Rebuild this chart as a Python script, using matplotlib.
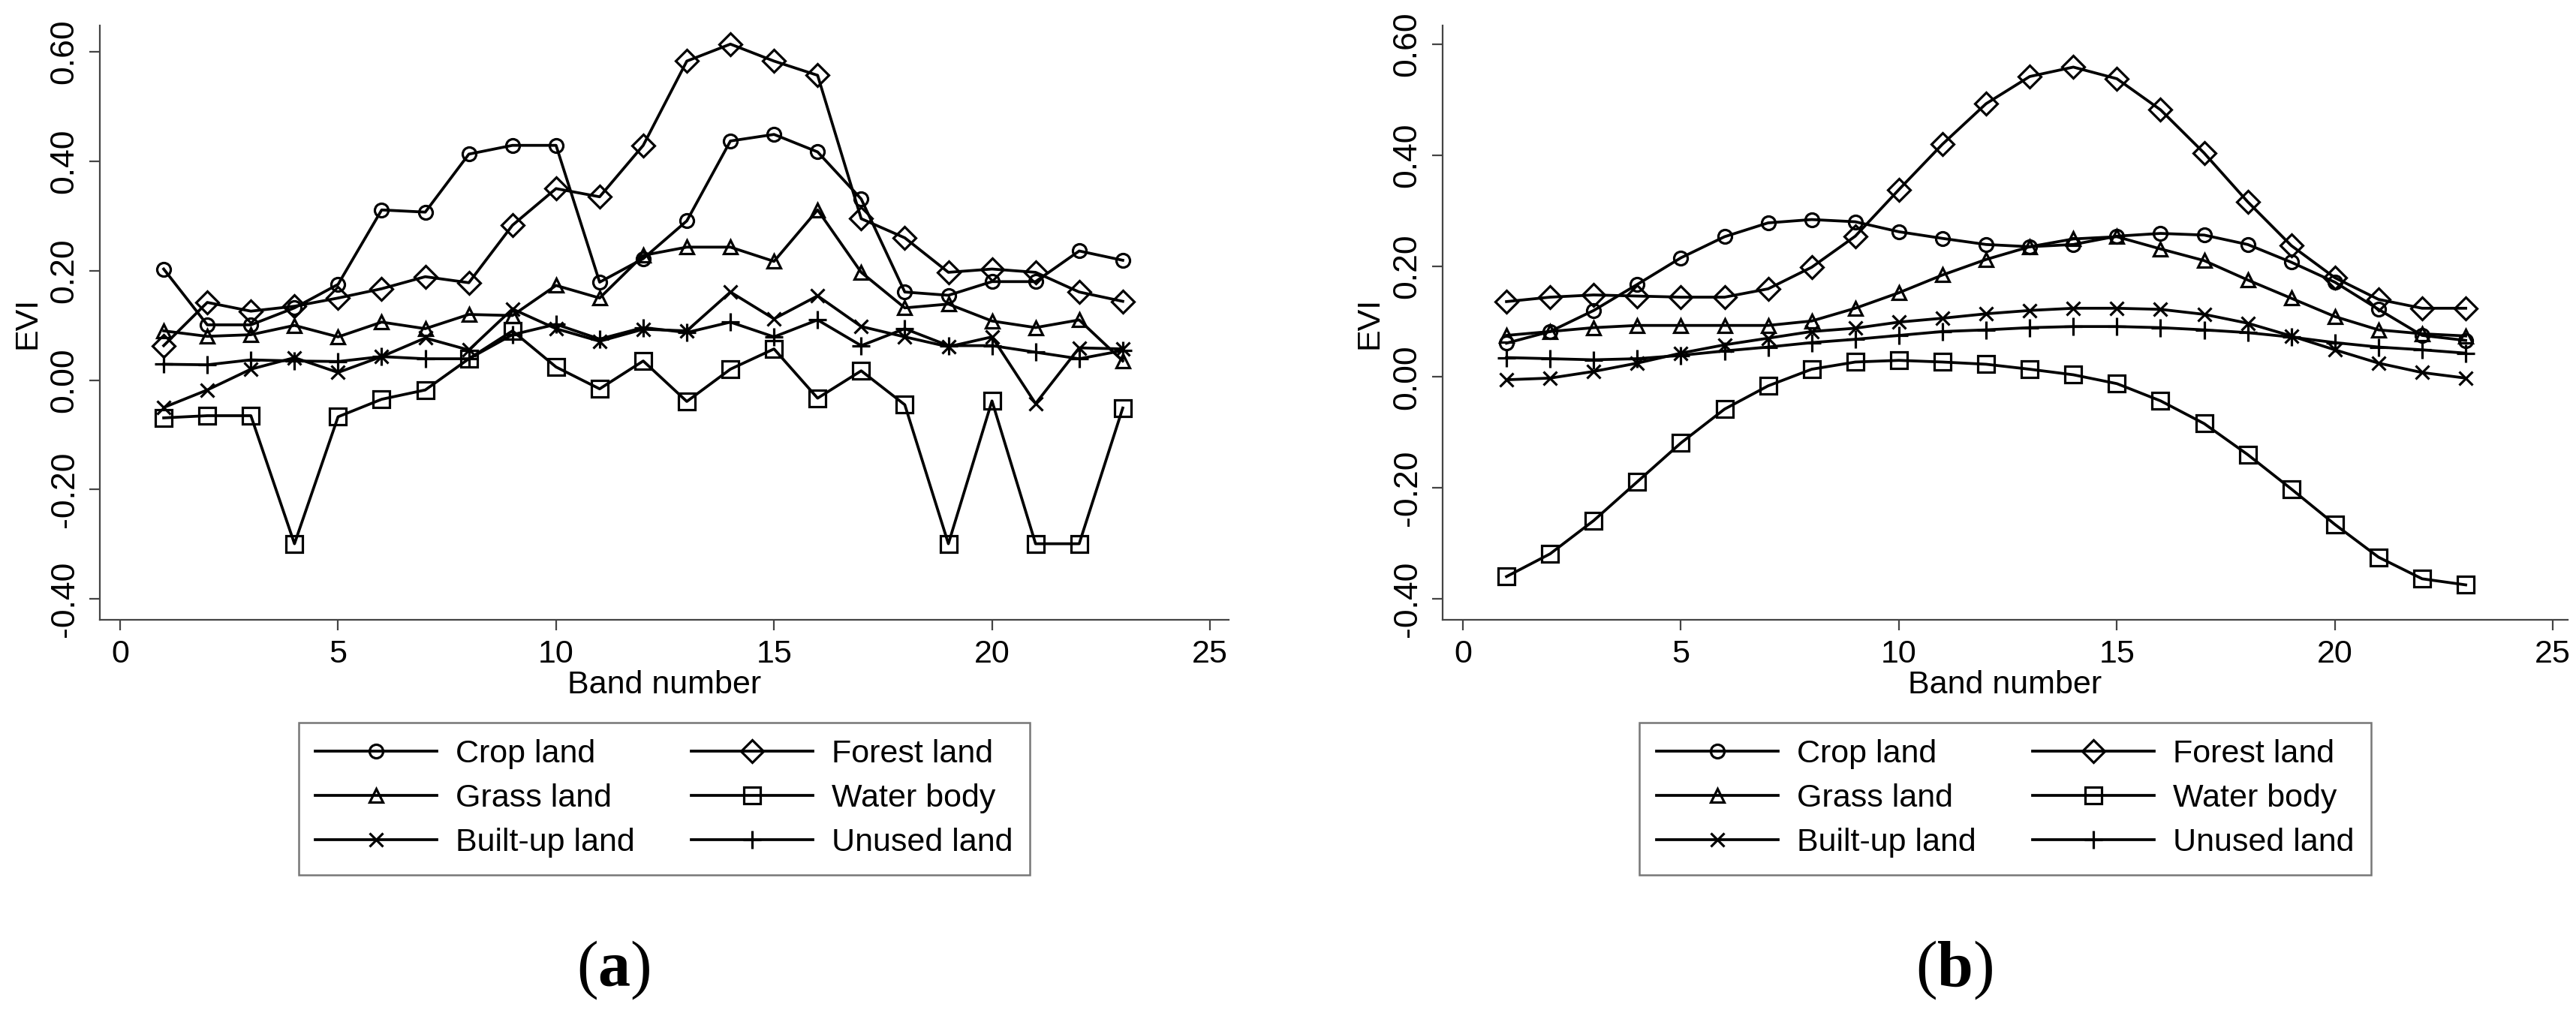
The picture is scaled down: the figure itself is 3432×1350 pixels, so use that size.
import matplotlib
matplotlib.use('Agg')
import matplotlib.pyplot as plt

plt.rcParams['font.family'] = ['Liberation Sans', 'DejaVu Sans']
plt.rcParams['axes.unicode_minus'] = False
plt.rcParams['mathtext.fontset'] = 'custom'
plt.rcParams['mathtext.rm'] = 'Liberation Serif'
plt.rcParams['mathtext.bf'] = 'Liberation Serif:bold'

band = list(range(1, 24))

# (a) original EVI curves
crop_a = [0.203, 0.101, 0.101, 0.132, 0.175, 0.311, 0.307, 0.413, 0.429, 0.429, 0.179, 0.222,
          0.291, 0.437, 0.449, 0.417, 0.331, 0.161, 0.155, 0.180, 0.180, 0.236, 0.219]
forest_a = [0.063, 0.142, 0.126, 0.135, 0.150, 0.167, 0.189, 0.178, 0.283, 0.350, 0.335, 0.429,
            0.583, 0.614, 0.583, 0.557, 0.295, 0.260, 0.197, 0.203, 0.197, 0.161, 0.144]
grass_a = [0.090, 0.080, 0.083, 0.100, 0.079, 0.106, 0.094, 0.120, 0.118, 0.173, 0.150, 0.228,
           0.243, 0.243, 0.217, 0.311, 0.197, 0.132, 0.139, 0.108, 0.096, 0.110, 0.035]
water_a = [-0.069, -0.065, -0.065, -0.299, -0.067, -0.035, -0.018, 0.039, 0.090, 0.024, -0.016, 0.035,
           -0.039, 0.020, 0.057, -0.033, 0.017, -0.045, -0.299, -0.038, -0.299, -0.299, -0.051]
built_a = [-0.050, -0.018, 0.020, 0.041, 0.014, 0.043, 0.077, 0.055, 0.130, 0.094, 0.071, 0.093,
           0.090, 0.161, 0.112, 0.154, 0.098, 0.079, 0.061, 0.079, -0.043, 0.059, 0.057]
unused_a = [0.029, 0.028, 0.037, 0.035, 0.034, 0.043, 0.039, 0.039, 0.083, 0.102, 0.075, 0.096,
            0.087, 0.106, 0.079, 0.110, 0.063, 0.094, 0.063, 0.063, 0.051, 0.039, 0.054]

# (b) smoothed EVI curves
crop_b = [0.061, 0.082, 0.120, 0.167, 0.215, 0.253, 0.278, 0.284, 0.280, 0.262, 0.250, 0.239,
          0.235, 0.239, 0.254, 0.259, 0.256, 0.239, 0.207, 0.171, 0.122, 0.075, 0.066]
forest_b = [0.136, 0.144, 0.148, 0.146, 0.144, 0.144, 0.159, 0.198, 0.254, 0.338, 0.420, 0.493,
            0.542, 0.559, 0.538, 0.482, 0.404, 0.316, 0.237, 0.179, 0.140, 0.124, 0.124]
grass_b = [0.075, 0.082, 0.089, 0.093, 0.093, 0.093, 0.093, 0.101, 0.124, 0.152, 0.184, 0.212,
           0.235, 0.249, 0.253, 0.231, 0.210, 0.175, 0.142, 0.109, 0.085, 0.078, 0.074]
water_b = [-0.360, -0.319, -0.259, -0.189, -0.119, -0.058, -0.016, 0.014, 0.027, 0.030, 0.027, 0.023,
           0.014, 0.004, -0.012, -0.043, -0.084, -0.140, -0.202, -0.266, -0.325, -0.364, -0.375]
built_b = [-0.005, -0.002, 0.010, 0.025, 0.043, 0.058, 0.070, 0.082, 0.088, 0.099, 0.106, 0.114,
           0.120, 0.124, 0.124, 0.122, 0.113, 0.097, 0.074, 0.049, 0.025, 0.008, -0.002]
unused_b = [0.035, 0.033, 0.031, 0.033, 0.039, 0.047, 0.054, 0.062, 0.068, 0.075, 0.082, 0.085,
            0.089, 0.091, 0.091, 0.089, 0.085, 0.080, 0.072, 0.062, 0.054, 0.049, 0.043]

names = ['Crop land', 'Grass land', 'Built-up land', 'Forest land', 'Water body', 'Unused land']
markers = ['o', '^', 'x', 'D', 's', '+']
msizes = [13, 13, 13, 15, 16, 17]

yticks = [-0.4, -0.2, 0.0, 0.2, 0.4, 0.6]
ytick_labels = ['-0.40', '-0.20', '0.00', '0.20', '0.40', '0.60']
xticks = [0, 5, 10, 15, 20, 25]

panels = [
    {'series': [crop_a, grass_a, built_a, forest_a, water_a, unused_a],
     'pos': [133 / 3432, 1 - 826 / 1350, 1504 / 3432, 792 / 1350],
     'ylim': (-0.438, 0.648), 'xlim': (-0.465, 25.43), 'ylab_x': -0.051, 'tag': 'a'},
    {'series': [crop_b, grass_b, built_b, forest_b, water_b, unused_b],
     'pos': [1922 / 3432, 1 - 826 / 1350, 1499 / 3432, 792 / 1350],
     'ylim': (-0.438, 0.634), 'xlim': (-0.465, 25.34), 'ylab_x': -0.052, 'tag': 'b'},
]

fig = plt.figure(figsize=(34.32, 13.5), dpi=100)

for p in panels:
    ax = fig.add_axes(p['pos'])
    handles = []
    for vals, name, m, ms in zip(p['series'], names, markers, msizes):
        h, = ax.plot(band, vals, color='black', lw=2.7, marker=m, ms=ms,
                     mfc='none', mec='black', mew=2.3, label=name)
        handles.append(h)
    ax.set_xlim(p['xlim'])
    ax.set_ylim(p['ylim'])
    ax.set_xticks(xticks)
    ax.set_yticks(yticks)
    ax.set_yticklabels(ytick_labels, rotation=90, va='center')
    for s in ['top', 'right']:
        ax.spines[s].set_visible(False)
    for s in ['left', 'bottom']:
        ax.spines[s].set_color('#444444')
        ax.spines[s].set_linewidth(1.6)
    ax.tick_params(axis='both', direction='out', length=10, width=1.6, color='#444444')
    ax.tick_params(axis='x', pad=9, labelsize=31)
    ax.tick_params(axis='y', pad=9, labelsize=32)
    ax.set_xlabel('Band number', fontsize=31, labelpad=0.5)
    ax.set_ylabel('EVI', fontsize=31)
    ax.yaxis.set_label_coords(p['ylab_x'], 0.5)

    cx = p['pos'][0] + p['pos'][2] / 2
    leg = ax.legend(handles=handles, loc='upper center', bbox_to_anchor=(cx, 1 - 963 / 1350),
                    bbox_transform=fig.transFigure, ncol=2, fontsize=31, frameon=True,
                    fancybox=False, borderaxespad=0, borderpad=0.52, handlelength=3.77,
                    handletextpad=0.58, columnspacing=1.74, labelspacing=0.44)
    leg.get_frame().set_edgecolor('#555555')
    leg.get_frame().set_linewidth(1.8)

    fig.text(cx - 68 / 3432, 1 - 1293 / 1350, r'$\mathrm{(}\mathbf{' + p['tag'] + r'}\mathrm{)}$',
             fontsize=62, ha='center', va='center')

plt.savefig('out.png', dpi=100)
